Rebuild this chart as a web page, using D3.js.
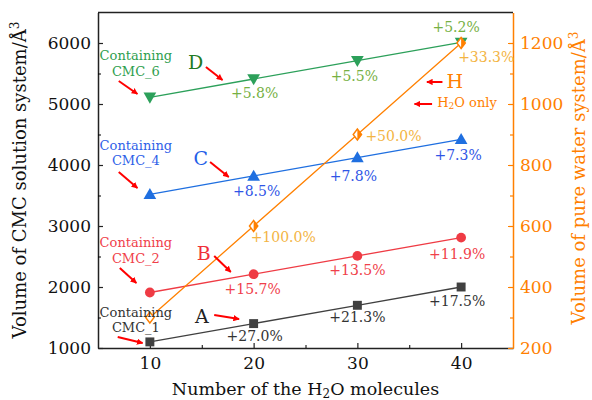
<!DOCTYPE html>
<html>
<head>
<meta charset="utf-8">
<script src="https://cdn.jsdelivr.net/npm/d3@7"></script>
<style>
  body { margin: 0; background: #fff; }
  svg text { font-family: "DejaVu Serif", "Liberation Serif", serif; }
</style>
</head>
<body>
<svg width="592" height="400"></svg>
<script>
// data
var molecules = [10, 20, 30, 40];
var volCMC1 = [1100, 1400, 1700, 2000];
var volCMC2 = [1910, 2210, 2510, 2810];
var volCMC4 = [3520, 3820, 4120, 4420];
var volCMC6 = [5110, 5410, 5710, 6010];
var volWater = [300, 600, 900, 1200];
var pctCMC1 = ["+27.0%", "+21.3%", "+17.5%"];
var pctCMC2 = ["+15.7%", "+13.5%", "+11.9%"];
var pctCMC4 = ["+8.5%", "+7.8%", "+7.3%"];
var pctCMC6 = ["+5.8%", "+5.5%", "+5.2%"];
var pctWater = ["+100.0%", "+50.0%", "+33.3%"];
var xTicks = [10, 20, 30, 40];
var yLeftTicks = [1000, 2000, 3000, 4000, 5000, 6000];
var yRightTicks = [200, 400, 600, 800, 1000, 1200];

var svg = d3.select("svg"),
    margin = {top: 12.5, right: 79, bottom: 52, left: 98},
    width = +svg.attr("width") - margin.left - margin.right,
    height = +svg.attr("height") - margin.top - margin.bottom;

var g = svg.append("g").attr("transform", "translate(" + margin.left + "," + margin.top + ")");

var x = d3.scaleLinear().domain([5, 45]).range([0, width]);
var yL = d3.scaleLinear().domain([1000, 6500]).range([height, 0]);
var yR = d3.scaleLinear().domain([200, 1300]).range([height, 0]);

var orange = "#ff8000";
var fmt = d3.format("d");

// axes, ticks pointing inward
var xAxis = g.append("g").attr("transform", "translate(0," + height + ")")
    .call(d3.axisBottom(x).tickValues(xTicks).tickFormat(fmt).tickSizeInner(-5).tickSizeOuter(0).tickPadding(9));
g.append("g").attr("transform", "translate(0," + height + ")")
    .call(d3.axisBottom(x).tickValues([15, 25, 35]).tickFormat("").tickSizeInner(-3).tickSizeOuter(0))
    .select(".domain").remove();

var yAxisL = g.append("g")
    .call(d3.axisLeft(yL).tickValues(yLeftTicks).tickFormat(fmt).tickSizeInner(-5).tickSizeOuter(0).tickPadding(7));
g.append("g")
    .call(d3.axisLeft(yL).tickValues([1500, 2500, 3500, 4500, 5500]).tickFormat("").tickSizeInner(-3).tickSizeOuter(0))
    .select(".domain").remove();

var yAxisR = g.append("g").attr("transform", "translate(" + width + ",0)")
    .call(d3.axisRight(yR).tickValues(yRightTicks).tickFormat(fmt).tickSizeInner(-5).tickSizeOuter(0).tickPadding(7));
var yAxisRMinor = g.append("g").attr("transform", "translate(" + width + ",0)")
    .call(d3.axisRight(yR).tickValues([300, 500, 700, 900, 1100]).tickFormat("").tickSizeInner(-3).tickSizeOuter(0));
yAxisRMinor.select(".domain").remove();

// top border
g.append("line").attr("x1", 0).attr("x2", width).attr("y1", 0).attr("y2", 0)
    .attr("stroke", "#222").attr("stroke-width", 1.5);

[xAxis, yAxisL].forEach(function (a) {
    a.select(".domain").attr("stroke", "#222").attr("stroke-width", 1.5);
    a.selectAll(".tick line").attr("stroke", "#222").attr("stroke-width", 1.2);
    a.selectAll("text").attr("font-size", 17).attr("fill", "#111").attr("font-family", null);
});
yAxisR.select(".domain").attr("stroke", orange).attr("stroke-width", 1.5);
yAxisR.selectAll(".tick line").attr("stroke", orange).attr("stroke-width", 1.2);
yAxisRMinor.selectAll(".tick line").attr("stroke", orange).attr("stroke-width", 1.2);
yAxisR.selectAll("text").attr("font-size", 17).attr("fill", orange).attr("font-family", null);

// axis titles
var xt = svg.append("text").attr("x", margin.left + width / 2).attr("y", 395)
    .attr("text-anchor", "middle").attr("font-size", 17.5).attr("fill", "#111");
xt.append("tspan").text("Number of the H");
xt.append("tspan").attr("baseline-shift", "-25%").attr("font-size", 12).text("2");
xt.append("tspan").text("O molecules");

var ylt = svg.append("text").attr("transform", "translate(26," + 180 + ") rotate(-90)")
    .attr("text-anchor", "middle").attr("font-size", 18).attr("fill", "#111");
ylt.append("tspan").text("Volume of CMC solution system/Å");
ylt.append("tspan").attr("baseline-shift", "super").attr("font-size", 12).text("3");

var yrt = svg.append("text").attr("transform", "translate(585," + 178 + ") rotate(-90)")
    .attr("text-anchor", "middle").attr("font-size", 18).attr("fill", orange);
yrt.append("tspan").text("Volume of pure water system/Å");
yrt.append("tspan").attr("baseline-shift", "super").attr("font-size", 12).text("3");

// series
var series = [
    {vals: volCMC1, pct: pctCMC1, y: yL, color: "#404040", text: "#333", shape: d3.symbolSquare, size: 80, rot: 0},
    {vals: volCMC2, pct: pctCMC2, y: yL, color: "#ef3b44", text: "#f0404a", shape: d3.symbolCircle, size: 75, rot: 0},
    {vals: volCMC4, pct: pctCMC4, y: yL, color: "#1f6fe0", text: "#2f55e6", shape: d3.symbolTriangle, size: 70, rot: 0},
    {vals: volCMC6, pct: pctCMC6, y: yL, color: "#2ca05a", text: "#76b043", shape: d3.symbolTriangle, size: 70, rot: 180},
    {vals: volWater, pct: pctWater, y: yR, color: orange, text: "#f3b443", shape: null, size: 0, rot: 0}
];

// label offsets relative to each point (px)
var pctOffsets = [
    [[1, 17, "middle"], [0, 17, "middle"], [-4, 19, "middle"]],
    [[-1, 20, "middle"], [0, 19, "middle"], [-4, 21, "middle"]],
    [[3, 20, "middle"], [-4, 23, "middle"], [-3, 21, "middle"]],
    [[1, 19, "middle"], [-3, 20, "middle"], [-5, -10, "middle"]],
    [[-3, 16, "start"], [8, 6, "start"], [-3, 19, "start"]]
];

var line = d3.line();

series.forEach(function (s, si) {
    var pts = molecules.map(function (m, i) { return [x(m), s.y(s.vals[i])]; });
    g.append("path").attr("d", line(pts)).attr("fill", "none")
        .attr("stroke", s.color).attr("stroke-width", 1.3);

    if (s.shape) {
        g.selectAll(null).data(pts).enter().append("path")
            .attr("d", d3.symbol().type(s.shape).size(s.size))
            .attr("transform", function (p) {
                return "translate(" + p[0] + "," + (p[1] + (s.shape === d3.symbolTriangle ? (s.rot ? -1 : 1) : 0)) + ") rotate(" + s.rot + ")";
            })
            .attr("fill", s.color);
    } else {
        // diamonds: first one open, the rest half filled
        var mk = g.selectAll(null).data(pts).enter().append("g")
            .attr("transform", function (p) { return "translate(" + p[0] + "," + p[1] + ")"; });
        mk.append("path").attr("d", "M0,-5.5L4.2,0L0,5.5L-4.2,0Z")
            .attr("fill", "#fff").attr("stroke", s.color).attr("stroke-width", 1.4);
        mk.filter(function (d, i) { return i > 0; })
            .append("path").attr("d", "M0,-5.5L4.2,0L0,5.5Z").attr("fill", s.color);
    }

    g.selectAll(null).data(s.pct).enter().append("text")
        .attr("x", function (d, i) { return pts[i + 1][0] + pctOffsets[si][i][0]; })
        .attr("y", function (d, i) { return pts[i + 1][1] + pctOffsets[si][i][1]; })
        .attr("text-anchor", function (d, i) { return pctOffsets[si][i][2]; })
        .attr("font-size", 14).attr("fill", s.text)
        .text(function (d) { return d; });
});

// annotations, placed in data units (x, left y)
var notes = [
    {t: ["Containing", "CMC_6"], x: 8.65, y: [5721, 5459], c: "#2e9e4e", fs: 13},
    {t: ["Containing", "CMC_4"], x: 8.65, y: [4246, 4000], c: "#2f5fe8", fs: 13},
    {t: ["Containing", "CMC_2"], x: 8.65, y: [2656, 2393], c: "#f0404a", fs: 13},
    {t: ["Containing", "CMC_1"], x: 8.65, y: [1508, 1262], c: "#333", fs: 13},
    {t: ["D"], x: 14.4, y: [5574], c: "#237a23", fs: 19},
    {t: ["C"], x: 14.9, y: [4000], c: "#1f5fe8", fs: 19},
    {t: ["B"], x: 15.2, y: [2443], c: "#f0303a", fs: 19},
    {t: ["A"], x: 15.0, y: [1410], c: "#222", fs: 19},
    {t: ["H"], x: 39.4, y: [5262], c: orange, fs: 19}
];
notes.forEach(function (n) {
    n.t.forEach(function (t, i) {
        g.append("text").attr("x", x(n.x)).attr("y", yL(n.y[i]))
            .attr("text-anchor", "middle").attr("font-size", n.fs).attr("fill", n.c).text(t);
    });
});
var h2o = g.append("text").attr("x", x(37.7)).attr("y", yL(4951))
    .attr("font-size", 13).attr("fill", orange);
h2o.append("tspan").text("H");
h2o.append("tspan").attr("baseline-shift", "-25%").attr("font-size", 9).text("2");
h2o.append("tspan").text("O only");

// red arrows
svg.append("defs").append("marker").attr("id", "head")
    .attr("viewBox", "0 0 10 10").attr("refX", 9).attr("refY", 5)
    .attr("markerWidth", 3.2).attr("markerHeight", 3.2).attr("orient", "auto")
    .append("path").attr("d", "M0,0L10,5L0,10Z").attr("fill", "#ff0000");

var arrows = [
    [7.0, 5377, 8.8, 5164], [15.4, 5607, 17.0, 5393],
    [7.0, 3885, 8.8, 3623], [15.8, 4049, 17.6, 3803],
    [7.1, 2311, 8.7, 2066], [16.2, 2508, 17.8, 2246],
    [6.9, 1180, 9.3, 1082], [16.2, 1541, 18.6, 1475],
    [38.2, 5361, 36.7, 5361], [37.2, 5000, 35.5, 5000]
];
g.selectAll(null).data(arrows).enter().append("line")
    .attr("x1", function (a) { return x(a[0]); })
    .attr("y1", function (a) { return yL(a[1]); })
    .attr("x2", function (a) { return x(a[2]); })
    .attr("y2", function (a) { return yL(a[3]); })
    .attr("stroke", "#ff0000").attr("stroke-width", 2)
    .attr("marker-end", "url(#head)");
</script>
</body>
</html>
